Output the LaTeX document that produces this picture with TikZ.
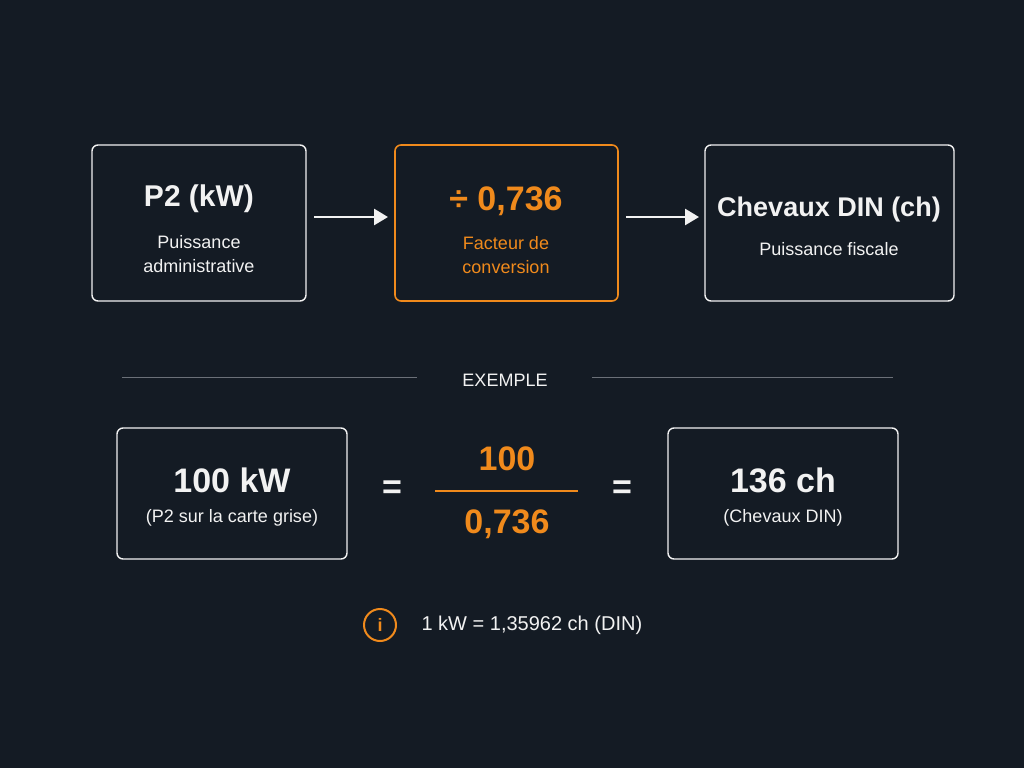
\documentclass[tikz,border=0pt]{standalone}
\usepackage{fontspec}
\setmainfont{Liberation Sans}
\usetikzlibrary{arrows.meta}
\definecolor{bg}{HTML}{141B24}
\definecolor{org}{HTML}{F08A1C}
\definecolor{txt}{HTML}{F2F2F2}
\definecolor{sep}{HTML}{6B7078}
\begin{document}
\begin{tikzpicture}[x=1pt,y=-1pt,
  box/.style={draw=txt,line width=1.4pt,rounded corners=6pt,fill=none},
  obox/.style={draw=org,line width=1.6pt,rounded corners=6pt},
  title/.style={text=txt,font=\bfseries\fontsize{30}{34}\selectfont},
  sub/.style={text=txt,font=\fontsize{18}{24}\selectfont,align=center},
  arr/.style={draw=txt,line width=2.6pt,-{Triangle[length=14pt,width=16pt]}}]
\fill[bg] (0,0) rectangle (1024,768);
\useasboundingbox (0,0) rectangle (1024,768);
\draw[box] (92,145) rectangle (306,301);
\draw[obox] (395,145) rectangle (618,301);
\draw[box] (705,145) rectangle (954,301);
\node[title] (t1) at (199,199) {P2 (kW)};
\node[sub] (s1) at (199,254) {Puissance\\administrative};
\node[title,text=org,font=\bfseries\fontsize{34}{38}\selectfont] (t2) at (506,201) {÷ 0,736};
\node[sub,text=org] (s2) at (506,255) {Facteur de\\conversion};
\node[title,font=\bfseries\fontsize{27}{32}\selectfont] (t3) at (829,210) {Chevaux DIN (ch)};
\node[sub] (s3) at (829,249) {Puissance fiscale};
\coordinate (a1s) at (314,217); \coordinate (a1e) at (388,217);
\coordinate (a2s) at (626,217); \coordinate (a2e) at (699,217);
\draw[arr] (a1s) -- (a1e);
\draw[arr] (a2s) -- (a2e);
\coordinate (l1a) at (122,377); \coordinate (l1b) at (417,377);
\coordinate (l2a) at (592,377); \coordinate (l2b) at (893,377);
\draw[sep,line width=1pt] (l1a) -- (l1b);
\draw[sep,line width=1pt] (l2a) -- (l2b);
\node[sub] (ex) at (505,380) {EXEMPLE};
\draw[box] (117,428) rectangle (347,559);
\draw[box] (668,428) rectangle (898,559);
\node[title,font=\bfseries\fontsize{34}{38}\selectfont] (t4) at (232,480) {100 kW};
\node[sub] (s4) at (232,518) {(P2 sur la carte grise)};
\node[title,font=\bfseries\fontsize{34}{38}\selectfont] (eq1) at (392,490) {=};
\node[title,text=org,font=\bfseries\fontsize{34}{38}\selectfont] (num) at (507,459) {100};
\coordinate (fa) at (435,491); \coordinate (fb) at (578,491);
\draw[org,line width=2pt] (fa) -- (fb);
\node[title,text=org,font=\bfseries\fontsize{34}{38}\selectfont] (den) at (507,524) {0,736};
\node[title,font=\bfseries\fontsize{34}{38}\selectfont] (eq2) at (622,490) {=};
\node[title,font=\bfseries\fontsize{34}{38}\selectfont] (t5) at (783,480) {136 ch};
\node[sub] (s5) at (783,518) {(Chevaux DIN)};
\node[circle,draw=org,line width=2pt,minimum size=32pt,inner sep=0pt,text=org,font=\bfseries\fontsize{18}{20}\selectfont] (info) at (380,625) {i};
\node[sub,anchor=west,font=\fontsize{20}{24}\selectfont] (note) at (418,625) {1 kW = 1,35962 ch (DIN)};
\end{tikzpicture}
\end{document}
